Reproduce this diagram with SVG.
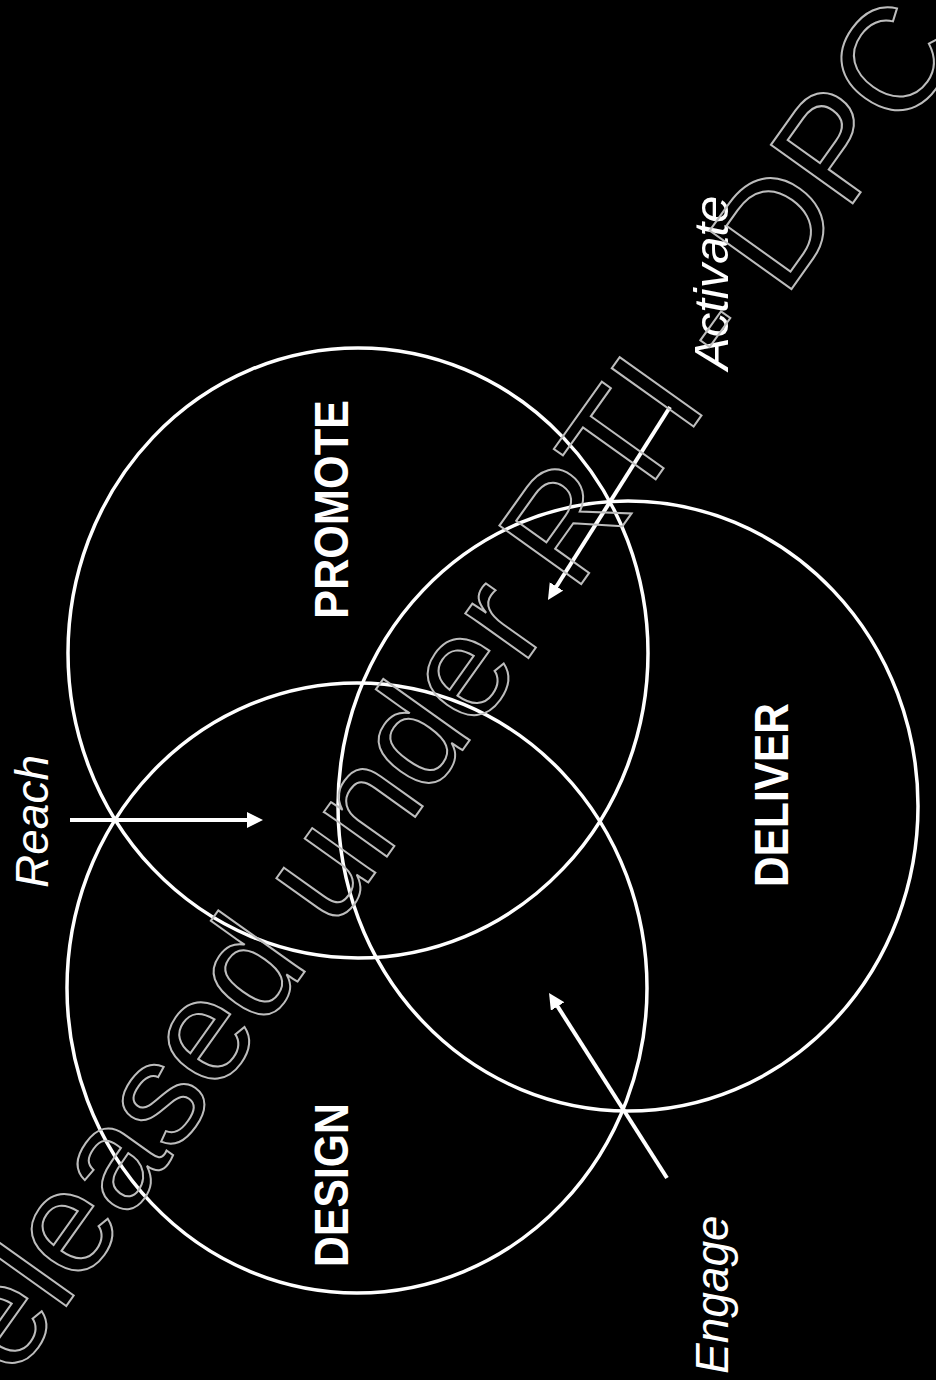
<svg xmlns="http://www.w3.org/2000/svg" width="936" height="1380" viewBox="0 0 936 1380">
  <style>
    .ring { fill: none; stroke: #ffffff; stroke-width: 3.5; }
    .title { fill: #ffffff; font-family: "Liberation Sans", Arial, sans-serif; font-weight: bold; font-size: 49px; text-anchor: middle; }
    .lbl { fill: #ffffff; font-family: "Liberation Sans", Arial, sans-serif; font-style: italic; font-size: 46px; }
    .arrow { stroke: #ffffff; stroke-width: 4; fill: none; marker-end: url(#head); }
    .wm { fill: none; stroke: #bdbdbd; stroke-width: 2; font-family: "Liberation Sans", Arial, sans-serif; font-size: 146px; }
  </style>
  <defs>
    <marker id="head" markerUnits="userSpaceOnUse" markerWidth="18" markerHeight="18" refX="6" refY="8" orient="auto">
      <path d="M0,0 L16,8 L0,16 z" fill="#ffffff"/>
    </marker>
  </defs>
  <rect x="0" y="0" width="936" height="1380" fill="#000000"/>

  <g id="node-promote">
    <ellipse class="ring" cx="358" cy="653" rx="290" ry="305"/>
    <text class="title" transform="translate(348,509.5) rotate(-90)" textLength="219" lengthAdjust="spacingAndGlyphs">PROMOTE</text>
  </g>
  <g id="node-design">
    <ellipse class="ring" cx="357" cy="988" rx="290" ry="305"/>
    <text class="title" transform="translate(348,1185) rotate(-90)" textLength="164" lengthAdjust="spacingAndGlyphs">DESIGN</text>
  </g>
  <g id="node-deliver">
    <ellipse class="ring" cx="628" cy="806" rx="290" ry="305"/>
    <text class="title" transform="translate(788,795) rotate(-90)" textLength="184" lengthAdjust="spacingAndGlyphs">DELIVER</text>
  </g>

  <g id="connectors">
    <line class="arrow" x1="70" y1="820" x2="253" y2="820"/>
    <line class="arrow" x1="670" y1="407" x2="553.3" y2="591.5"/>
    <line class="arrow" x1="667" y1="1178" x2="554.4" y2="1001.4"/>
  </g>

  <g id="labels">
    <text class="lbl" transform="translate(48,888) rotate(-90)">Reach</text>
    <text class="lbl" transform="translate(728,370) rotate(-90)" style="font-size:49px">Activate</text>
    <text class="lbl" transform="translate(728,1374) rotate(-90)">Engage</text>
  </g>

  <g id="watermark">
    <text class="wm" transform="translate(-48,1466) rotate(-54.5)">Released under RTI - DPC</text>
  </g>
</svg>
